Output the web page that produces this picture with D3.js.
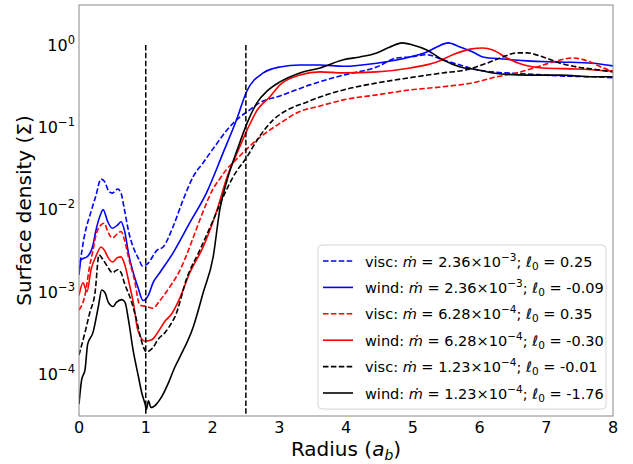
<!DOCTYPE html>
<html>
<head>
<meta charset="utf-8">
<script src="https://cdn.jsdelivr.net/npm/d3@7"></script>
<style>
  body { margin: 0; background: #fff; }
  text { font-family: "DejaVu Sans", sans-serif; fill: #000; }
</style>
</head>
<body>
<svg id="chart" width="633" height="464"></svg>
<script>
// ---------------------------------------------------------------
//    DATA (radius in a_b, surface density)
// ---------------------------------------------------------------
const viscHigh = [[0,1.8e-3],[0.08,4.7e-3],[0.18,9.4e-3],[0.25,1.44e-2],[0.33,2.34e-2],[0.38,2.2e-2],[0.45,1.65e-2],[0.5,1.58e-2],[0.58,1.77e-2],[0.63,1.58e-2],[0.68,1.0e-2],[0.75,5.1e-3],[0.83,3.2e-3],[0.9,2.45e-3],[0.95,2.05e-3],[1.03,2.2e-3],[1.17,3.2e-3],[1.26,3.5e-3],[1.41,6.2e-3],[1.56,1.31e-2],[1.71,2.5e-2],[1.86,3.7e-2],[2.07,6.4e-2],[2.22,9.3e-2],[2.41,0.133],[2.52,0.154],[2.71,0.199],[3.01,0.24],[3.46,0.327],[3.96,0.43],[4.46,0.54],[4.76,0.695],[4.96,0.715],[5.21,0.76],[5.45,0.66],[5.71,0.57],[5.96,0.5],[6.2,0.47],[6.71,0.445],[7.21,0.42],[7.7,0.41],[8,0.4]];
const windHigh = [[0,1.6e-3],[0.03,2.45e-3],[0.13,2.7e-3],[0.21,3.7e-3],[0.25,5.4e-3],[0.33,9.0e-3],[0.36,1.0e-2],[0.43,7.1e-3],[0.5,5.9e-3],[0.58,6.5e-3],[0.63,7.1e-3],[0.68,5.6e-3],[0.75,2.7e-3],[0.83,1.53e-3],[0.88,1.15e-3],[0.96,7.8e-4],[1.04,9.1e-4],[1.11,1.29e-3],[1.21,1.7e-3],[1.41,2.97e-3],[1.66,6.9e-3],[1.91,1.59e-2],[2.16,4.9e-2],[2.36,0.123],[2.51,0.27],[2.76,0.457],[3.01,0.54],[3.31,0.57],[3.61,0.57],[3.96,0.55],[4.46,0.6],[4.96,0.715],[5.21,0.82],[5.36,0.945],[5.53,1.06],[5.71,0.945],[5.9,0.82],[6.05,0.715],[6.35,0.675],[6.71,0.64],[7.21,0.62],[7.7,0.6],[8,0.556]];
const viscMid = [[0,6.0e-4],[0.1,1.0e-3],[0.15,1.85e-3],[0.21,3.2e-3],[0.25,4.7e-3],[0.33,6.5e-3],[0.38,6.8e-3],[0.43,5.4e-3],[0.5,4.5e-3],[0.58,5.1e-3],[0.63,5.4e-3],[0.68,4.3e-3],[0.75,2.45e-3],[0.83,1.4e-3],[0.91,6.9e-4],[1.01,6.6e-4],[1.11,6.3e-4],[1.2,7.6e-4],[1.3,9.7e-4],[1.4,1.28e-3],[1.5,1.74e-3],[1.6,2.65e-3],[1.7,4.3e-3],[1.8,7.1e-3],[1.9,1.14e-2],[2.0,1.73e-2],[2.1,2.3e-2],[2.2,3.0e-2],[2.35,4.0e-2],[2.5,5.3e-2],[2.7,7.4e-2],[3.0,0.11],[3.3,0.154],[3.6,0.18],[3.96,0.215],[4.46,0.247],[4.96,0.284],[5.45,0.31],[5.96,0.355],[6.26,0.41],[6.56,0.457],[6.86,0.54],[7.1,0.62],[7.4,0.695],[7.66,0.62],[7.85,0.525],[8,0.48]];
const windMid = [[0,9e-4],[0.06,1.28e-3],[0.12,1.0e-3],[0.18,1.85e-3],[0.25,2.65e-3],[0.33,3.5e-3],[0.38,3.2e-3],[0.43,2.65e-3],[0.5,2.3e-3],[0.58,2.6e-3],[0.63,2.65e-3],[0.68,2.2e-3],[0.75,1.28e-3],[0.82,6.9e-4],[0.88,3.45e-4],[0.99,2.5e-4],[1.09,2.6e-4],[1.18,3.2e-4],[1.29,4.4e-4],[1.39,5.4e-4],[1.5,8.0e-4],[1.66,1.7e-3],[1.86,3.5e-3],[2.07,1.0e-2],[2.22,2.5e-2],[2.37,4.9e-2],[2.52,9.3e-2],[2.67,0.162],[2.86,0.234],[3.01,0.327],[3.31,0.43],[3.61,0.47],[3.96,0.457],[4.46,0.47],[4.96,0.525],[5.36,0.62],[5.6,0.76],[5.86,0.89],[6.05,0.92],[6.2,0.87],[6.41,0.695],[6.61,0.59],[6.95,0.525],[7.46,0.51],[8,0.48]];
const viscLow = [[0,1.7e-4],[0.09,3.2e-4],[0.16,5.5e-4],[0.24,9.7e-4],[0.3,2.8e-3],[0.36,2.45e-3],[0.43,2.0e-3],[0.5,1.7e-3],[0.58,1.85e-3],[0.63,1.7e-3],[0.68,1.28e-3],[0.79,7.4e-4],[0.86,4.6e-4],[0.94,2.45e-4],[1.01,1.86e-4],[1.11,2.1e-4],[1.18,2.6e-4],[1.29,3.2e-4],[1.39,4.2e-4],[1.44,5.0e-4],[1.62,1.5e-3],[1.81,3.2e-3],[2.01,7.4e-3],[2.16,1.42e-2],[2.31,2.5e-2],[2.52,4.4e-2],[2.67,7.0e-2],[2.91,0.123],[3.12,0.162],[3.42,0.203],[3.61,0.233],[3.96,0.284],[4.46,0.345],[4.96,0.4],[5.45,0.457],[5.81,0.5],[6.11,0.6],[6.35,0.715],[6.56,0.8],[6.71,0.8],[6.95,0.715],[7.21,0.6],[7.46,0.54],[7.76,0.5],[8,0.47]];
const windLow = [[0,4.3e-5],[0.04,8.5e-5],[0.09,1.12e-4],[0.13,2.3e-4],[0.21,3.2e-4],[0.29,6.6e-4],[0.34,1.05e-3],[0.39,9.7e-4],[0.44,7.4e-4],[0.51,6.6e-4],[0.56,7.4e-4],[0.64,8.0e-4],[0.69,7.4e-4],[0.74,4.6e-4],[0.81,1.96e-4],[0.89,9.3e-5],[0.94,5.9e-5],[0.99,4.3e-5],[1.01,3.7e-5],[1.04,4.7e-5],[1.08,3.9e-5],[1.16,4.3e-5],[1.24,5.3e-5],[1.34,7.8e-5],[1.44,1.23e-4],[1.51,1.6e-4],[1.71,3.7e-4],[1.86,9.7e-4],[2.01,2.65e-3],[2.11,1.0e-2],[2.22,2.3e-2],[2.37,5.3e-2],[2.52,0.113],[2.67,0.2],[2.82,0.276],[3.01,0.355],[3.31,0.457],[3.61,0.525],[3.96,0.66],[4.21,0.715],[4.46,0.8],[4.66,0.945],[4.84,1.06],[5.0,1.0],[5.21,0.87],[5.45,0.66],[5.71,0.54],[5.96,0.5],[6.2,0.457],[6.71,0.43],[7.21,0.43],[7.7,0.41],[8,0.41]];

const seriesData = [viscHigh, windHigh, viscMid, windMid, viscLow, windLow];
const seriesKind = ["visc", "wind", "visc", "wind", "visc", "wind"];
const seriesColor = ["blue", "blue", "red", "red", "black", "black"];
const mdotMantissa = ["2.36", "2.36", "6.28", "6.28", "1.23", "1.23"];
const mdotExponent = ["\u22123", "\u22123", "\u22124", "\u22124", "\u22124", "\u22124"];
const ell0 = ["0.25", "-0.09", "0.35", "-0.30", "-0.01", "-1.76"];

const xTicks = [0, 1, 2, 3, 4, 5, 6, 7, 8];
const yTickExp = [0, -1, -2, -3, -4];
const markerRadii = [1, 2.5];

// ---------------------------------------------------------------
//    LAYOUT
// ---------------------------------------------------------------
const plotLeft = 79, plotRight = 613, plotTop = 5, plotBottom = 416;
const svg = d3.select("#chart");

const x = d3.scaleLinear().domain([0, 8]).range([plotLeft, plotRight]);
const y = d3.scaleLog().domain([3.08e-5, 3.06]).range([plotBottom, plotTop]);

svg.append("clipPath").attr("id", "plot-clip")
    .append("rect")
    .attr("x", plotLeft).attr("y", plotTop)
    .attr("width", plotRight - plotLeft).attr("height", plotBottom - plotTop);

const line = d3.line()
    .x(d => x(d[0]))
    .y(d => y(d[1]))
    .curve(d3.curveMonotoneX);

const dash = "5.5,2.4";

// Curves
const curves = svg.append("g").attr("clip-path", "url(#plot-clip)");
seriesData.forEach((data, i) => {
    curves.append("path")
        .attr("d", line(data))
        .attr("fill", "none")
        .attr("stroke", seriesColor[i])
        .attr("stroke-width", 1.6)
        .attr("stroke-dasharray", seriesKind[i] === "visc" ? dash : null);
});

// Vertical dashed markers at the binary radius and 2.5 a_b
markerRadii.forEach(r => {
    svg.append("line")
        .attr("x1", x(r)).attr("x2", x(r))
        .attr("y1", y(1)).attr("y2", plotBottom)
        .attr("stroke", "black")
        .attr("stroke-width", 1.5)
        .attr("stroke-dasharray", dash);
});

// Frame
svg.append("rect")
    .attr("x", plotLeft).attr("y", plotTop)
    .attr("width", plotRight - plotLeft).attr("height", plotBottom - plotTop)
    .attr("fill", "none")
    .attr("stroke", "#888")
    .attr("stroke-width", 1);

// X tick labels
xTicks.forEach(t => {
    svg.append("text")
        .attr("x", x(t)).attr("y", 433)
        .attr("text-anchor", "middle")
        .attr("font-size", 16)
        .text(t);
});

// Y tick labels (10^n)
yTickExp.forEach(e => {
    const t = svg.append("text")
        .attr("x", 75).attr("y", y(Math.pow(10, e)) + 6)
        .attr("text-anchor", "end")
        .attr("font-size", 16);
    t.append("tspan").text("10");
    t.append("tspan")
        .attr("font-size", 11.5)
        .attr("dy", -7)
        .text(e === 0 ? "0" : "\u2212" + (-e));
});

// Axis labels
const xl = svg.append("text")
    .attr("x", (plotLeft + plotRight) / 2).attr("y", 456)
    .attr("text-anchor", "middle")
    .attr("font-size", 20);
xl.append("tspan").text("Radius (");
xl.append("tspan").attr("font-style", "italic").text("a");
xl.append("tspan").attr("font-style", "italic").attr("font-size", 14).attr("dy", 4).text("b");
xl.append("tspan").attr("dy", -4).text(")");

svg.append("text")
    .attr("transform", `translate(31,${(plotTop + plotBottom) / 2}) rotate(-90)`)
    .attr("text-anchor", "middle")
    .attr("font-size", 20)
    .text("Surface density (\u03A3)");

// ---------------------------------------------------------------
//    LEGEND
// ---------------------------------------------------------------
const legend = svg.append("g");
legend.append("rect")
    .attr("x", 318).attr("y", 245)
    .attr("width", 288).attr("height", 164)
    .attr("rx", 4)
    .attr("fill", "white")
    .attr("fill-opacity", 0.8)
    .attr("stroke", "#d6d6d6");

seriesData.forEach((_, i) => {
    const ry = 261 + i * 26.4;
    legend.append("line")
        .attr("x1", 323).attr("x2", 353)
        .attr("y1", ry).attr("y2", ry)
        .attr("stroke", seriesColor[i])
        .attr("stroke-width", 1.6)
        .attr("stroke-dasharray", seriesKind[i] === "visc" ? dash : null);

    const t = legend.append("text")
        .attr("x", 365).attr("y", ry + 5.5)
        .attr("font-size", 14.5);
    t.append("tspan").text(seriesKind[i] + ": ");
    t.append("tspan").attr("font-style", "italic").text("\u1E41");
    t.append("tspan").text(" = " + mdotMantissa[i] + "\u00D710");
    t.append("tspan").attr("font-size", 10.5).attr("dy", -6).text(mdotExponent[i]);
    t.append("tspan").attr("dy", 6).text("; ");
    t.append("tspan").attr("font-style", "italic").text("\u2113");
    t.append("tspan").attr("font-size", 10.5).attr("dy", 3).text("0");
    t.append("tspan").attr("dy", -3).text(" = " + ell0[i]);
});
</script>
</body>
</html>
